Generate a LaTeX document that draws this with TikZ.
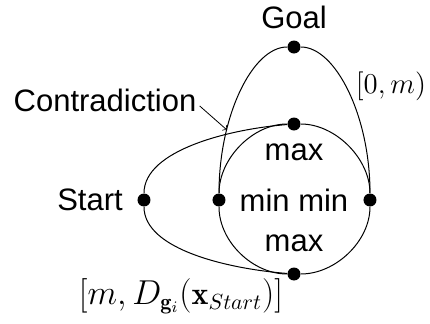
\documentclass[tikz,border=0pt]{standalone}
\usepackage{fontspec}
\newfontfamily\lsans{Liberation Sans}
\begin{document}
\begin{tikzpicture}[x=0.5pt,y=0.5pt,
  dot/.style={circle,fill=black,inner sep=0pt,minimum size=6.5pt},
  curve/.style={draw=black,line width=0.5pt},
  lbl/.style={inner sep=0pt,font=\lsans\fontsize{15.5}{18}\selectfont},
  mlbl/.style={inner sep=0pt,font=\fontsize{16}{19}\selectfont}]
\useasboundingbox (0,0) rectangle (430,323);
% dots
\node[dot] (G) at (294,276) {};
\node[dot] (T) at (294,199) {};
\node[dot] (L) at (219,123) {};
\node[dot] (R) at (370,123) {};
\node[dot] (S) at (144,123) {};
\node[dot] (B) at (294,49) {};
% goal loop
\draw[curve] (L) .. controls +(0,84.5) and +(-41.4,0) .. (G);
\draw[curve] (G) .. controls +(41.4,0) and +(0,84.5) .. (R);
% circle
\draw[curve] (L) .. controls +(0,41.4) and +(-41.4,0) .. (T);
\draw[curve] (T) .. controls +(41.4,0) and +(0,41.4) .. (R);
\draw[curve] (R) .. controls +(0,-41.4) and +(41.4,0) .. (B);
\draw[curve] (B) .. controls +(-41.4,0) and +(0,-41.4) .. (L);
% start loop
\draw[curve] (S) .. controls +(0,50) and +(-64,-5) .. (T);
\draw[curve] (S) .. controls +(0,-50) and +(-64,5) .. (B);
% labels
\node[lbl] (goal) at (294,306) {Goal};
\node[lbl] (start) at (90,123) {Start};
\node[lbl] (max1) at (294,171) {max};
\node[lbl] (minmin) at (294,123) {min min};
\node[lbl] (max2) at (294,80) {max};
\node[lbl] (contr) at (105,223) {Contradiction};
\node[mlbl,font=\fontsize{15.3}{18}\selectfont] (lab1) at (391,237) {$[0,m)$};
\node[mlbl] (lab2) at (181,27) {$[m,D_{\mathbf{g}_i}(\mathbf{x}_{Start})]$};
\coordinate (cross) at (227,193);
\draw[line width=0.4pt,->] (contr.east) ++(3,-6) -- (cross);
\end{tikzpicture}
\end{document}
